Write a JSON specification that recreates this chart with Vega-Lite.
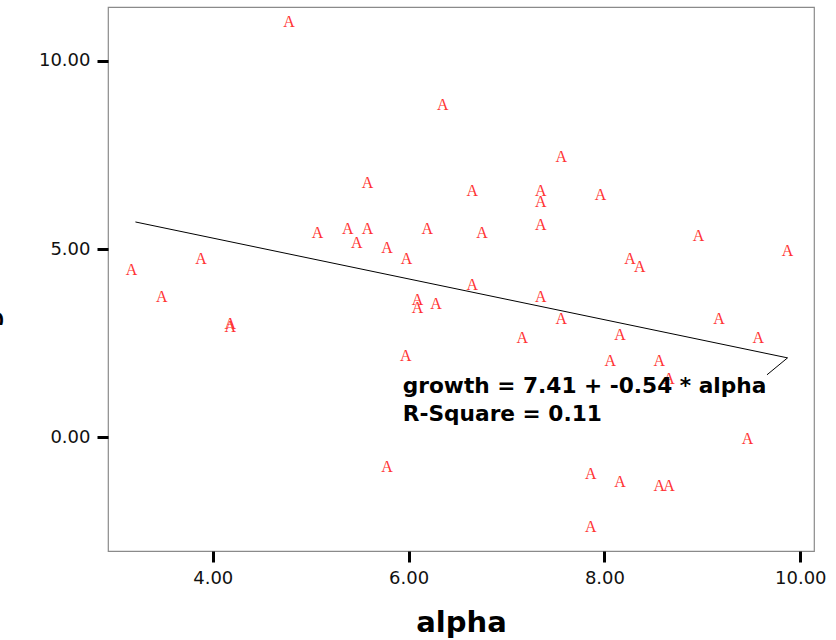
{
  "$schema": "https://vega.github.io/schema/vega-lite/v6.json",
  "autosize": {"type": "none"},
  "padding": {"left": 108, "top": 7, "right": 22, "bottom": 89},
  "width": 706,
  "height": 544,
  "background": "white",
  "config": {
    "view": {"stroke": "#8a8a8a", "strokeWidth": 1.2},
    "axis": {
      "grid": false,
      "domain": false,
      "labelFont": "DejaVu Sans",
      "labelFontSize": 18,
      "labelColor": "#111111",
      "tickColor": "#000000",
      "tickWidth": 3,
      "tickSize": 11,
      "labelPadding": 7,
      "titleFont": "DejaVu Sans",
      "titleFontWeight": "bold",
      "titleColor": "#000000"
    }
  },
  "datasets": {
    "points": [
      {"alpha": 4.78, "growth": 11.03},
      {"alpha": 6.35, "growth": 8.83},
      {"alpha": 7.56, "growth": 7.45},
      {"alpha": 3.17, "growth": 4.45},
      {"alpha": 3.48, "growth": 3.73},
      {"alpha": 3.88, "growth": 4.74},
      {"alpha": 4.18, "growth": 3.01},
      {"alpha": 4.18, "growth": 2.93},
      {"alpha": 5.58, "growth": 6.76},
      {"alpha": 5.07, "growth": 5.43},
      {"alpha": 5.38, "growth": 5.54},
      {"alpha": 5.58, "growth": 5.54},
      {"alpha": 5.47, "growth": 5.16},
      {"alpha": 5.78, "growth": 5.03},
      {"alpha": 6.19, "growth": 5.54},
      {"alpha": 5.98, "growth": 4.74},
      {"alpha": 6.09, "growth": 3.65},
      {"alpha": 6.09, "growth": 3.44},
      {"alpha": 6.28, "growth": 3.54},
      {"alpha": 5.97, "growth": 2.16},
      {"alpha": 5.78, "growth": -0.78},
      {"alpha": 6.65, "growth": 6.55},
      {"alpha": 6.75, "growth": 5.43},
      {"alpha": 6.65, "growth": 4.05},
      {"alpha": 7.35, "growth": 6.55},
      {"alpha": 7.35, "growth": 6.25},
      {"alpha": 7.35, "growth": 5.64},
      {"alpha": 7.35, "growth": 3.73},
      {"alpha": 7.16, "growth": 2.64},
      {"alpha": 7.56, "growth": 3.15},
      {"alpha": 7.96, "growth": 6.44},
      {"alpha": 8.26, "growth": 4.74},
      {"alpha": 8.36, "growth": 4.53},
      {"alpha": 8.96, "growth": 5.35},
      {"alpha": 9.87, "growth": 4.95},
      {"alpha": 9.17, "growth": 3.15},
      {"alpha": 9.57, "growth": 2.64},
      {"alpha": 8.16, "growth": 2.72},
      {"alpha": 8.06, "growth": 2.03},
      {"alpha": 8.56, "growth": 2.03},
      {"alpha": 8.66, "growth": 1.55},
      {"alpha": 9.46, "growth": -0.04},
      {"alpha": 7.86, "growth": -0.97},
      {"alpha": 8.16, "growth": -1.18},
      {"alpha": 8.56, "growth": -1.29},
      {"alpha": 8.66, "growth": -1.29},
      {"alpha": 7.86, "growth": -2.38}
    ],
    "fitline": [
      {"alpha": 3.21, "growth": 5.72, "seq": 1},
      {"alpha": 9.87, "growth": 2.11, "seq": 2},
      {"alpha": 9.66, "growth": 1.66, "seq": 3}
    ],
    "notes": [
      {"alpha": 5.94, "growth": 1.18, "label": "growth = 7.41 + -0.54 * alpha"},
      {"alpha": 5.94, "growth": 0.44, "label": "R-Square = 0.11"}
    ]
  },
  "layer": [
    {
      "data": {"name": "fitline"},
      "mark": {"type": "line", "color": "#000000", "strokeWidth": 1},
      "encoding": {
        "x": {
          "field": "alpha", "type": "quantitative",
          "scale": {"domain": [2.93, 10.14], "nice": false, "zero": false},
          "axis": {"values": [4, 6, 8, 10], "format": ".2f", "title": "alpha", "titleFontSize": 29, "titleBaseline": "alphabetic", "titleY": 80}
        },
        "y": {
          "field": "growth", "type": "quantitative",
          "scale": {"domain": [-3.02, 11.43], "nice": false, "zero": false},
          "axis": {"values": [0, 5, 10], "format": ".2f", "title": "growth", "titleFontSize": 25, "titleBaseline": "alphabetic", "titleAlign": "center", "titleAngle": 270, "titleX": -111, "titleY": 270}
        },
        "order": {"field": "seq", "type": "quantitative"}
      }
    },
    {
      "data": {"name": "points"},
      "mark": {"type": "text", "text": "A", "font": "Liberation Serif", "fontSize": 16, "color": "#ff3333", "baseline": "middle", "align": "center"},
      "encoding": {
        "x": {"field": "alpha", "type": "quantitative"},
        "y": {"field": "growth", "type": "quantitative"}
      }
    },
    {
      "data": {"name": "notes"},
      "mark": {"type": "text", "font": "DejaVu Sans", "fontWeight": "bold", "fontSize": 21.7, "color": "#000000", "align": "left", "baseline": "alphabetic"},
      "encoding": {
        "x": {"field": "alpha", "type": "quantitative"},
        "y": {"field": "growth", "type": "quantitative"},
        "text": {"field": "label"}
      }
    }
  ]
}
